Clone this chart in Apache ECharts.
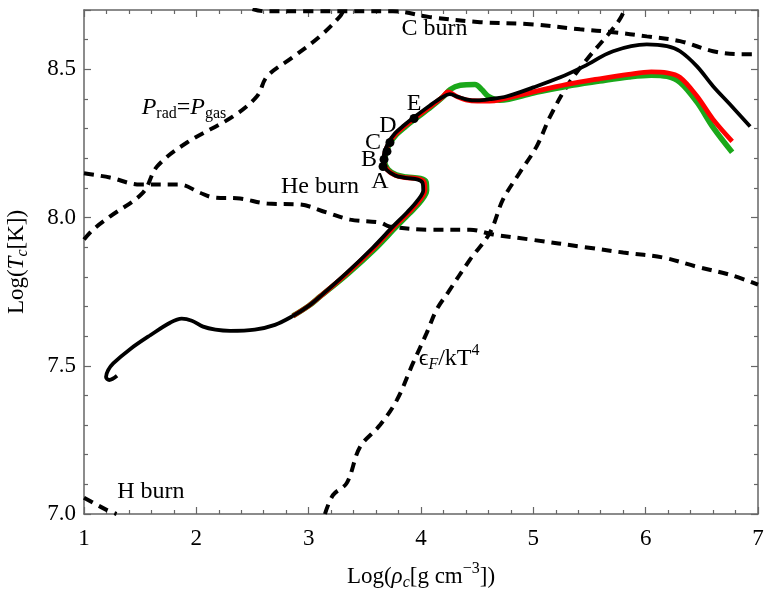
<!DOCTYPE html>
<html>
<head>
<meta charset="utf-8">
<script src="https://cdn.jsdelivr.net/npm/echarts@6/dist/echarts.min.js"></script>
<style>html,body{margin:0;padding:0;background:#fff}#c{width:764px;height:589px}</style>
</head>
<body>
<div id="c"></div>
<script>
// ---- data (log rho_c, log T_c) ----
const blackTrack = [
 [1.294,7.466],[1.225,7.452],[1.196,7.462],[1.215,7.485],[1.26,7.508],[1.41,7.556],[1.59,7.603],[1.77,7.646],[1.87,7.659],
 [1.96,7.652],[2.06,7.632],[2.17,7.622],[2.30,7.618],[2.52,7.622],[2.70,7.638],[2.86,7.668],[3.00,7.702],[3.10,7.733],
 [3.34,7.814],[3.573,7.899],[3.751,7.970],[3.875,8.017],[3.97,8.058],[4.02,8.092],[4.015,8.116],[3.973,8.128],[3.86,8.134],
 [3.769,8.142],[3.695,8.160],[3.664,8.186],[3.672,8.216],[3.706,8.25],[3.769,8.284],[3.849,8.311],[3.938,8.338],
 [4.08,8.378],[4.187,8.405],[4.255,8.416],[4.33,8.407],[4.41,8.398],[4.50,8.395],[4.61,8.399],[4.766,8.409],[5.0,8.439],
 [5.24,8.473],[5.45,8.51],[5.71,8.561],[6.01,8.584],[6.19,8.578],[6.306,8.561],[6.457,8.51],[6.60,8.443],[6.75,8.382],[6.93,8.307]
];
const redTrack = [
 [2.86,7.668],[3.00,7.702],[3.10,7.733],
 [3.345,7.813],[3.58,7.897],[3.758,7.968],[3.885,8.015],[3.985,8.057],[4.035,8.093],[4.03,8.118],[3.985,8.130],[3.86,8.135],
 [3.775,8.142],[3.700,8.161],[3.670,8.187],[3.678,8.216],[3.712,8.249],[3.775,8.282],[3.855,8.309],[3.944,8.335],
 [4.085,8.375],[4.19,8.406],[4.24,8.424],[4.32,8.408],[4.40,8.397],[4.50,8.393],[4.61,8.393],[4.70,8.397],[5.0,8.424],
 [5.30,8.449],[5.59,8.468],[5.85,8.483],[6.05,8.491],[6.19,8.488],[6.306,8.473],[6.457,8.409],[6.60,8.331],[6.77,8.257]
];
const greenTrack = [
 [2.86,7.668],[3.00,7.702],[3.10,7.733],
 [3.35,7.811],[3.59,7.894],[3.77,7.965],[3.895,8.013],[3.998,8.055],[4.05,8.092],[4.045,8.120],[3.995,8.132],[3.87,8.137],
 [3.78,8.144],[3.706,8.163],[3.677,8.188],[3.686,8.216],[3.72,8.248],[3.782,8.280],[3.862,8.307],[3.950,8.333],
 [4.09,8.373],[4.20,8.408],[4.26,8.432],[4.35,8.446],[4.48,8.449],[4.54,8.432],[4.60,8.409],[4.70,8.396],[5.0,8.420],
 [5.30,8.443],[5.59,8.460],[5.85,8.474],[6.05,8.480],[6.19,8.476],[6.306,8.456],[6.457,8.389],[6.60,8.304],[6.77,8.220]
];
const pointsABCDE = [[3.662,8.172],[3.671,8.196],[3.697,8.223],[3.724,8.253],[3.938,8.334]];
const pointNames = ['A','B','C','D','E'];

const pradLine = [
 [1.0,7.926],[1.08,7.959],[1.23,8.003],[1.525,8.084],[1.65,8.172],[1.917,8.253],[2.327,8.341],[2.54,8.409],[2.63,8.476],
 [2.86,8.541],[3.10,8.611],[3.28,8.679],[3.31,8.700]
];
const cBurnLine = [
 [2.50,8.703],[2.60,8.696],[3.0,8.696],[3.75,8.696],[4.08,8.676],[4.525,8.659],[4.97,8.652],[5.416,8.635],[5.71,8.625],
 [6.01,8.611],[6.306,8.595],[6.60,8.561],[6.84,8.551],[7.0,8.551]
];
const heBurnLine = [
 [1.0,8.149],[1.23,8.135],[1.50,8.111],[1.855,8.111],[2.03,8.084],[2.15,8.068],[2.39,8.064],[2.63,8.047],[2.92,8.044],
 [3.16,8.017],[3.37,7.993],[3.635,7.983],[3.72,7.970],[4.08,7.959],[4.436,7.959],[4.64,7.943],[4.97,7.926],[5.478,7.899],
 [5.80,7.882],[6.155,7.865],[6.457,7.834],[6.75,7.807],[7.0,7.774]
];
const hBurnLine = [[1.0,7.055],[1.20,7.014],[1.29,7.0]];
const degenLine = [
 [3.145,7.0],[3.217,7.064],[3.34,7.105],[3.457,7.226],[3.635,7.30],[3.786,7.385],[3.93,7.51],[4.05,7.61],[4.14,7.69],
 [4.24,7.747],[4.436,7.858],[4.614,7.949],[4.73,8.061],[4.88,8.152],[5.03,8.24],[5.15,8.341],[5.30,8.443],[5.478,8.534],
 [5.683,8.625],[5.77,8.669],[5.816,8.703]
];
const xTicks = [1,2,3,4,5,6,7];
const yTicks = [7.0,7.5,8.0,8.5];

// annotation texts (anchor = text centre, data coordinates)
const annotations = [
 {value:[4.12,8.636], text:'C burn'},
 {value:[3.10,8.105], text:'He burn'},
 {value:[1.596,7.074], text:'H burn'},
 {value:[1.89,8.372], text:'{i|P}{s|rad}{r|=}{i|P}{s|gas}'},
 {value:[4.25,7.525], text:'{r|ϵ}{si|F}{r|/kT}{sup|4}'},
 {value:[3.635,8.120], text:'A'},
 {value:[3.537,8.196], text:'B'},
 {value:[3.573,8.253], text:'C'},
 {value:[3.706,8.311], text:'D'},
 {value:[3.938,8.385], text:'E'}
];

const FONT = "'Liberation Serif','DejaVu Serif','Times New Roman',serif";
const chart = echarts.init(document.getElementById('c'), null, {renderer:'canvas'});
const axisCol = '#666';
const nb = {textBorderWidth:0, textBorderColor:'transparent', textShadowBlur:0};
const rich = {
  r:Object.assign({fontFamily:FONT,fontSize:24,color:'#000'},nb),
  i:Object.assign({fontFamily:FONT,fontSize:24,fontStyle:'italic',color:'#000'},nb),
  s:Object.assign({fontFamily:FONT,fontSize:16,color:'#000',padding:[13,0,0,0]},nb),
  si:Object.assign({fontFamily:FONT,fontSize:16,fontStyle:'italic',color:'#000',padding:[13,0,0,0]},nb),
  sup:Object.assign({fontFamily:FONT,fontSize:16,color:'#000',padding:[0,0,15,0]},nb)
};
const richAxis = {
  r:{fontFamily:FONT,fontSize:23,color:'#000'},
  i:{fontFamily:FONT,fontSize:23,fontStyle:'italic',color:'#000'},
  si:{fontFamily:FONT,fontSize:16,fontStyle:'italic',color:'#000',padding:[12,0,0,0]},
  sup:{fontFamily:FONT,fontSize:16,color:'#000',padding:[0,0,15,0]}
};
function dashed(name,data){
  return {name, type:'line', data, smooth:0.35, symbol:'none', z:2,
    lineStyle:{color:'#000', width:4, type:[10,7]}};
}
const isMajorY = v => yTicks.some(t=>Math.abs(t-v)<1e-6);
const option = {
  animation:false,
  backgroundColor:'#fff',
  grid:{left:84, right:6, top:10, bottom:75, containLabel:false, outerBoundsMode:'none'},
  xAxis:[
    {type:'value', min:xTicks[0], max:xTicks[xTicks.length-1], interval:1, position:'bottom',
     axisLine:{onZero:false, lineStyle:{color:axisCol, width:1.5}},
     axisTick:{inside:true, length:7, lineStyle:{color:axisCol, width:1.2}},
     minorTick:{show:true, splitNumber:5, length:4, lineStyle:{color:axisCol, width:1.2}},
     splitLine:{show:false},
     axisLabel:{fontFamily:FONT, fontSize:23, color:'#000', margin:13},
     name:'{r|Log(}{i|ρ}{si|c}{r|[g cm}{sup|−3}{r|])}', nameLocation:'middle', nameGap:47,
     nameTextStyle:{rich:richAxis}},
    {type:'value', min:xTicks[0], max:xTicks[xTicks.length-1], interval:1, position:'top',
     axisLine:{onZero:false, lineStyle:{color:axisCol, width:1.5}},
     axisTick:{inside:true, length:7, lineStyle:{color:axisCol, width:1.2}},
     minorTick:{show:true, splitNumber:5, length:4, lineStyle:{color:axisCol, width:1.2}},
     splitLine:{show:false}, axisLabel:{show:false}}
  ],
  yAxis:[
    {type:'value', min:7.0, max:8.7, interval:0.5, position:'left',
     axisLine:{onZero:false, lineStyle:{color:axisCol, width:1.5}},
     axisTick:{inside:true, length:7, lineStyle:{color:axisCol, width:1.2}},
     minorTick:{show:true, splitNumber:5, length:4, lineStyle:{color:axisCol, width:1.2}},
     splitLine:{show:false},
     axisLabel:{fontFamily:FONT, fontSize:23, color:'#000', margin:8,
       formatter:v => isMajorY(v) ? v.toFixed(1) : ''},
     name:'{r|Log(}{i|T}{si|c}{r|[K])}', nameLocation:'middle', nameGap:53, nameRotate:90,
     nameTextStyle:{rich:richAxis}},
    {type:'value', min:7.0, max:8.7, interval:0.5, position:'right',
     axisLine:{onZero:false, lineStyle:{color:axisCol, width:1.5}},
     axisTick:{inside:true, length:7, lineStyle:{color:axisCol, width:1.2}},
     minorTick:{show:true, splitNumber:5, length:4, lineStyle:{color:axisCol, width:1.2}},
     splitLine:{show:false}, axisLabel:{show:false}}
  ],
  series:[
    dashed('Prad=Pgas', pradLine),
    dashed('C burn', cBurnLine),
    dashed('He burn', heBurnLine),
    dashed('H burn', hBurnLine),
    dashed('eF/kT4', degenLine),
    {name:'green', type:'line', data:greenTrack, smooth:0.35, symbol:'none', z:3,
     lineStyle:{color:'#1aa81a', width:5.5}},
    {name:'red', type:'line', data:redTrack, smooth:0.35, symbol:'none', z:4,
     lineStyle:{color:'#ff0000', width:4.8}},
    {name:'black', type:'line', data:blackTrack, smooth:0.35, symbol:'none', z:5,
     lineStyle:{color:'#000', width:3.8}},
    {name:'points', type:'scatter', data:pointsABCDE, symbol:'circle', symbolSize:9, z:6,
     itemStyle:{color:'#000', opacity:1}},
    {name:'labels', type:'scatter', z:7, symbolSize:0, silent:true,
     itemStyle:{color:'#000', opacity:1},
     data:annotations.map(a=>({value:a.value, text:a.text})),
     label:Object.assign({show:true, position:'inside', color:'#000', opacity:1,
       formatter:p => p.data.text.indexOf('{')>=0 ? p.data.text : '{r|'+p.data.text+'}', rich}, nb)}
  ]
};
chart.setOption(option);
</script>
</body>
</html>
